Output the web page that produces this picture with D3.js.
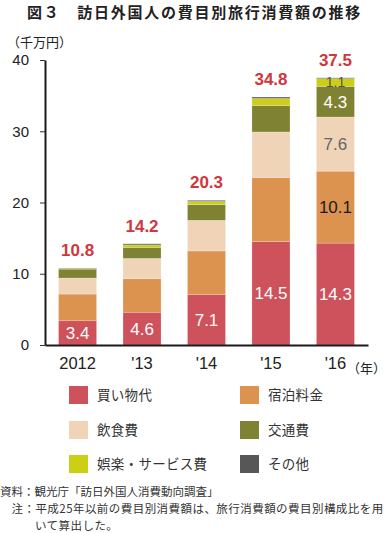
<!DOCTYPE html>
<html><head><meta charset="utf-8">
<script src="https://cdn.jsdelivr.net/npm/d3@7"></script>
<style>
body{margin:0;background:#fff;}
svg{display:block;}
</style></head>
<body>
<svg id="chart" width="389" height="533"></svg>
<script>
const years = ["2012","'13","'14","'15","'16"];
const seriesNames = ["買い物代","宿泊料金","飲食費","交通費","娯楽・サービス費","その他"];
const seriesColors = ["#cd525b","#dd9350","#f0d4b8","#7f8232","#cccf16","#575757"];
const shopping = [3.4, 4.6, 7.1, 14.5, 14.3];
const lodging = [3.75, 4.7, 6.1, 9.0, 10.1];
const food = [2.25, 2.85, 4.3, 6.4, 7.6];
const transport = [1.25, 1.55, 2.2, 3.7, 4.3];
const entertainment = [0.1, 0.35, 0.45, 1.0, 1.1];
const other = [0.05, 0.15, 0.15, 0.2, 0.1];
const totals = [10.8, 14.2, 20.3, 34.8, 37.5];
const yTicks = [0, 10, 20, 30, 40];
// which segments carry a value label: [seriesIndex, yearIndex, color]
const segLabels = [
  [0,0,"#fff"],[0,1,"#fff"],[0,2,"#fff"],[0,3,"#fff"],[0,4,"#fff"],
  [1,4,"#1a1a1a"],[2,4,"#666"],[3,4,"#fff"],[4,4,"#555"]
];

const seriesVals = [shopping, lodging, food, transport, entertainment, other];
const rows = years.map((yr,i)=>{
  const r = {year: yr};
  seriesNames.forEach((s,k)=>{ r[s] = seriesVals[k][i]; });
  return r;
});

const svg = d3.select("#chart");
const numFont = "'Liberation Sans', Arial, sans-serif";
const jpFont = "'Noto Sans CJK JP', sans-serif";

const x = d3.scaleBand().domain(years).range([45, 368]).paddingInner(0.41).paddingOuter(0.21);
const y = d3.scaleLinear().domain([0, 40]).range([345, 60]);

// title
svg.append("text").attr("x", 27).attr("y", 17.5)
  .attr("font-family", jpFont).attr("font-weight", 700).attr("font-size", 15)
  .attr("letter-spacing", 1.75).attr("fill", "#222")
  .text("図３　訪日外国人の費目別旅行消費額の推移");

svg.append("text").attr("x", 7).attr("y", 47)
  .attr("font-family", jpFont).attr("font-size", 13).attr("fill", "#222")
  .text("（千万円）");

// stacked bars
const stack = d3.stack().keys(seriesNames)(rows);
const g = svg.append("g");
stack.forEach((layer, k)=>{
  g.selectAll(null).data(layer).enter().append("rect")
    .attr("x", d=>x(d.data.year))
    .attr("width", x.bandwidth())
    .attr("y", d=>y(d[1]))
    .attr("height", d=>Math.max(0, y(d[0]) - y(d[1])))
    .attr("fill", seriesColors[k])
    .attr("stroke", "rgba(255,255,255,0.35)")
    .attr("stroke-width", 0.6);
});

// segment labels
segLabels.forEach(([k,i,col])=>{
  const d = stack[k][i];
  const small = k === 4;
  svg.append("text")
    .attr("x", x(years[i]) + x.bandwidth()/2)
    .attr("y", (y(d[0]) + y(d[1]))/2)
    .attr("dy", "0.36em")
    .attr("text-anchor", "middle")
    .attr("font-family", numFont)
    .attr("font-size", small ? 14 : 17)
    .attr("fill", col)
    .text(seriesVals[k][i].toFixed(1));
});

// totals
svg.selectAll(null).data(totals).enter().append("text")
  .attr("x", (d,i)=>x(years[i]) + x.bandwidth()/2)
  .attr("y", d=>y(d) - 12)
  .attr("text-anchor", "middle")
  .attr("font-family", numFont).attr("font-weight", 700).attr("font-size", 17)
  .attr("fill", "#d0373b")
  .text(d=>d.toFixed(1));

// y axis
const yAxis = d3.axisLeft(y).tickValues(yTicks).tickSize(5).tickSizeOuter(0).tickPadding(11);
const ya = svg.append("g").attr("transform", "translate(45,0)").call(yAxis);
ya.select(".domain").attr("stroke", "#1a1a1a").attr("stroke-width", 2);
ya.selectAll(".tick line").attr("stroke", "#333").attr("stroke-width", 1);
ya.selectAll(".tick text").attr("font-family", numFont).attr("font-size", 15).attr("fill", "#222");

// x axis
const xAxis = d3.axisBottom(x).tickSize(0).tickSizeOuter(0).tickPadding(12);
const xa = svg.append("g").attr("transform", "translate(0,345)").call(xAxis);
xa.select(".domain").attr("stroke", "#1a1a1a").attr("stroke-width", 2);
xa.selectAll(".tick text").attr("font-family", numFont).attr("font-size", 16.5).attr("fill", "#222");

svg.append("text").attr("x", 347).attr("y", 373)
  .attr("font-family", jpFont).attr("font-size", 13).attr("fill", "#222")
  .text("（年）");

// legend
const legPos = [[69,386],[240,386],[69,421],[240,421],[69,455],[240,455]];
seriesNames.forEach((s,k)=>{
  const [lx,ly] = legPos[k];
  svg.append("rect").attr("x", lx).attr("y", ly).attr("width", 19).attr("height", 18).attr("fill", seriesColors[k]);
  svg.append("text").attr("x", lx + 28).attr("y", ly + 14)
    .attr("font-family", jpFont).attr("font-size", 13.5).attr("letter-spacing", 0.3).attr("fill", "#333")
    .text(s);
});

// notes
const notes = [
  [0, 496, 0, "資料：観光庁「訪日外国人消費動向調査」"],
  [11.5, 513, 0.45, "注：平成25年以前の費目別消費額は、旅行消費額の費目別構成比を用"],
  [35, 530, 0.45, "いて算出した。"]
];
notes.forEach(([nx,ny,ls,t])=>{
  svg.append("text").attr("x", nx).attr("y", ny)
    .attr("font-family", jpFont).attr("font-size", 11.5).attr("letter-spacing", ls).attr("fill", "#333")
    .text(t);
});
</script>
</body></html>
